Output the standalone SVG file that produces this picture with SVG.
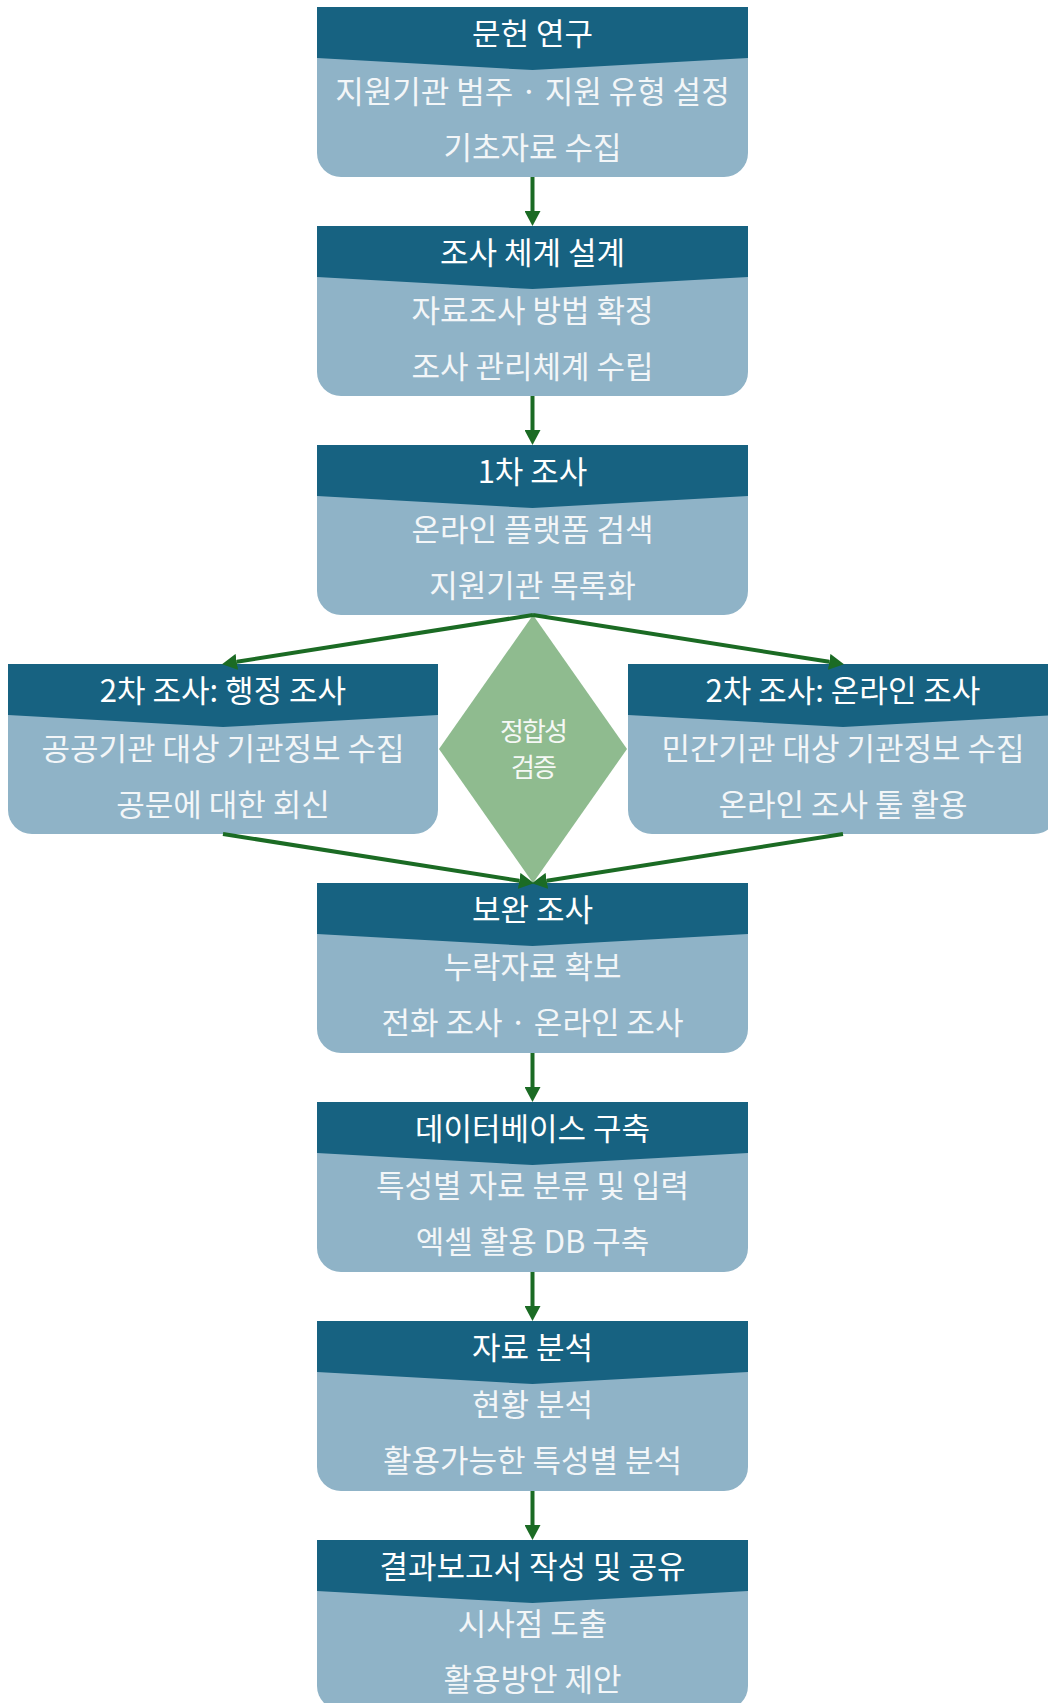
<svg xmlns="http://www.w3.org/2000/svg" width="1048" height="1703" viewBox="0 0 1048 1703">
<defs>
<style>
.body{fill:#8fb3c7}
.head{fill:#176281}
.t{font-family:"Noto Sans CJK KR","Noto Sans",sans-serif;font-size:31px;text-anchor:middle;dominant-baseline:central}
.title{fill:#ffffff}
.line{fill:#f3f6f8}
.dtext{font-family:"Noto Sans CJK KR","Noto Sans",sans-serif;font-size:26px;text-anchor:middle;dominant-baseline:central;fill:#f5f8f5;letter-spacing:-2px}
.conn{stroke:#1b6b24;stroke-width:4;fill:none;marker-end:url(#ah)}
</style>
<marker id="ah" markerUnits="userSpaceOnUse" markerWidth="15" markerHeight="16" refX="0" refY="8" orient="auto" viewBox="0 0 15 16">
<path d="M0,0 L15,8 L0,16 Z" fill="#1b6b24"/>
</marker>
</defs>

<rect x="0" y="0" width="1048" height="1703" fill="#ffffff"/>

<g id="node1">
<path class="body" d="M317,7 H748 V153 A24,24 0 0 1 724,177 H341 A24,24 0 0 1 317,153 Z"/>
<path class="head" d="M317,7 H748 V58 L532.5,70 L317,58 Z"/>
<text class="t title" x="532.5" y="31">문헌 연구</text>
<text class="t line" x="532.5" y="89">지원기관 범주 · 지원 유형 설정</text>
<text class="t line" x="532.5" y="145">기초자료 수집</text>
</g>

<g id="node2">
<path class="body" d="M317,226 H748 V372 A24,24 0 0 1 724,396 H341 A24,24 0 0 1 317,372 Z"/>
<path class="head" d="M317,226 H748 V277 L532.5,289 L317,277 Z"/>
<text class="t title" x="532.5" y="250">조사 체계 설계</text>
<text class="t line" x="532.5" y="308">자료조사 방법 확정</text>
<text class="t line" x="532.5" y="364">조사 관리체계 수립</text>
</g>

<g id="node3">
<path class="body" d="M317,445 H748 V591 A24,24 0 0 1 724,615 H341 A24,24 0 0 1 317,591 Z"/>
<path class="head" d="M317,445 H748 V496 L532.5,508 L317,496 Z"/>
<text class="t title" x="532.5" y="469">1차 조사</text>
<text class="t line" x="532.5" y="527">온라인 플랫폼 검색</text>
<text class="t line" x="532.5" y="583">지원기관 목록화</text>
</g>

<g id="node4a">
<path class="body" d="M8,664 H438 V810 A24,24 0 0 1 414,834 H32 A24,24 0 0 1 8,810 Z"/>
<path class="head" d="M8,664 H438 V715 L223,727 L8,715 Z"/>
<text class="t title" x="223" y="688">2차 조사: 행정 조사</text>
<text class="t line" x="223" y="746">공공기관 대상 기관정보 수집</text>
<text class="t line" x="223" y="802">공문에 대한 회신</text>
</g>

<g id="node4b">
<path class="body" d="M628,664 H1058 V810 A24,24 0 0 1 1034,834 H652 A24,24 0 0 1 628,810 Z"/>
<path class="head" d="M628,664 H1058 V715 L843,727 L628,715 Z"/>
<text class="t title" x="843" y="688">2차 조사: 온라인 조사</text>
<text class="t line" x="843" y="746">민간기관 대상 기관정보 수집</text>
<text class="t line" x="843" y="802">온라인 조사 툴 활용</text>
</g>

<g id="check">
<path d="M533,615 L627,749 L533,883 L439,749 Z" fill="#8fbb8f"/>
<text class="dtext" x="533" y="729">정합성</text>
<text class="dtext" x="533" y="765">검증</text>
</g>

<g id="node5">
<path class="body" d="M317,883 H748 V1029 A24,24 0 0 1 724,1053 H341 A24,24 0 0 1 317,1029 Z"/>
<path class="head" d="M317,883 H748 V934 L532.5,946 L317,934 Z"/>
<text class="t title" x="532.5" y="907">보완 조사</text>
<text class="t line" x="532.5" y="964">누락자료 확보</text>
<text class="t line" x="532.5" y="1020">전화 조사 · 온라인 조사</text>
</g>

<g id="node6">
<path class="body" d="M317,1102 H748 V1248 A24,24 0 0 1 724,1272 H341 A24,24 0 0 1 317,1248 Z"/>
<path class="head" d="M317,1102 H748 V1153 L532.5,1165 L317,1153 Z"/>
<text class="t title" x="532.5" y="1126">데이터베이스 구축</text>
<text class="t line" x="532.5" y="1183">특성별 자료 분류 및 입력</text>
<text class="t line" x="532.5" y="1239">엑셀 활용 DB 구축</text>
</g>

<g id="node7">
<path class="body" d="M317,1321 H748 V1467 A24,24 0 0 1 724,1491 H341 A24,24 0 0 1 317,1467 Z"/>
<path class="head" d="M317,1321 H748 V1372 L532.5,1384 L317,1372 Z"/>
<text class="t title" x="532.5" y="1345">자료 분석</text>
<text class="t line" x="532.5" y="1402">현황 분석</text>
<text class="t line" x="532.5" y="1458">활용가능한 특성별 분석</text>
</g>

<g id="node8">
<path class="body" d="M317,1540 H748 V1686 A24,24 0 0 1 724,1710 H341 A24,24 0 0 1 317,1686 Z"/>
<path class="head" d="M317,1540 H748 V1591 L532.5,1603 L317,1591 Z"/>
<text class="t title" x="532.5" y="1564">결과보고서 작성 및 공유</text>
<text class="t line" x="532.5" y="1621">시사점 도출</text>
<text class="t line" x="532.5" y="1677">활용방안 제안</text>
</g>

<g id="connectors">
<line class="conn" x1="532.5" y1="177" x2="532.5" y2="211"/>
<line class="conn" x1="532.5" y1="396" x2="532.5" y2="430"/>
<line class="conn" x1="533" y1="615" x2="236.8" y2="661.8"/>
<line class="conn" x1="533" y1="615" x2="829.2" y2="661.8"/>
<line class="conn" x1="223" y1="834" x2="519.2" y2="880.8"/>
<line class="conn" x1="843" y1="834" x2="546.8" y2="880.8"/>
<line class="conn" x1="532.5" y1="1053" x2="532.5" y2="1087"/>
<line class="conn" x1="532.5" y1="1272" x2="532.5" y2="1306"/>
<line class="conn" x1="532.5" y1="1491" x2="532.5" y2="1525"/>
</g>
</svg>
